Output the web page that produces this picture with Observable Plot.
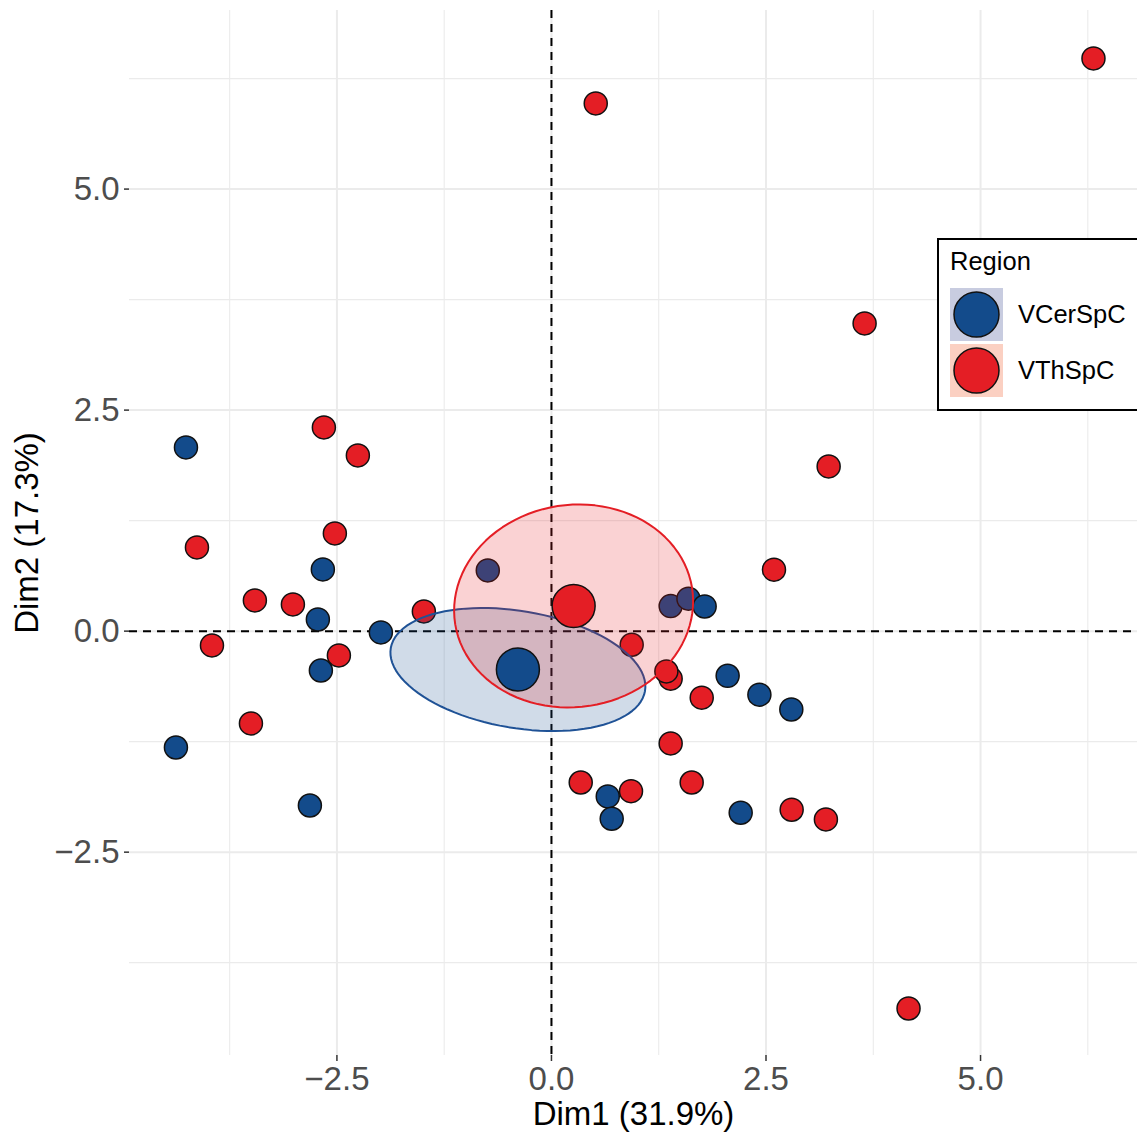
<!DOCTYPE html>
<html>
<head>
<meta charset="utf-8">
<script src="https://cdn.jsdelivr.net/npm/d3@7"></script>
<script src="https://cdn.jsdelivr.net/npm/@observablehq/plot@0.6"></script>
<style>
html, body { margin: 0; padding: 0; background: #fff; overflow: hidden; }
#wrap { position: relative; width: 1137px; height: 1135px; font-family: "Liberation Sans", Arial, sans-serif; }
#legend { position: absolute; left: 937px; top: 238px; }
</style>
</head>
<body>
<div id="wrap"></div>
<script>
// ---- data ----
const groups = ["VCerSpC", "VThSpC"];
const groupColors = ["#134B8B", "#E41E25"];
const ellipseStrokes = ["#1F5296", "#E41E25"];
const keyFills = ["#C8CCE0", "#FBD0C2"];

const cerX = [-4.259, -2.664, -2.722, -1.988, -2.687, -4.376, -2.815, -0.742, 1.389, 1.596, 1.785, 2.053, 2.423, 2.795, 0.656, 0.702, 2.205];
const cerY = [2.078, 0.698, 0.132, -0.015, -0.445, -1.316, -1.972, 0.687, 0.283, 0.367, 0.279, -0.505, -0.719, -0.886, -1.870, -2.122, -2.054];

const thX = [6.316, 0.516, 3.649, 3.230, -2.652, -2.256, -2.524, -4.131, -3.456, -3.013, -1.487, -3.956, -2.477, -3.502, 2.593, 0.935, 1.389, 1.339, 1.751, 1.389, 0.341, 0.927, 1.634, 2.799, 3.198, 4.161];
const thY = [6.478, 5.969, 3.481, 1.863, 2.304, 1.988, 1.105, 0.947, 0.347, 0.302, 0.223, -0.162, -0.275, -1.044, 0.695, -0.154, -0.538, -0.456, -0.753, -1.270, -1.712, -1.810, -1.712, -2.020, -2.130, -4.268];

const majorTicks = [-2.5, 0, 2.5, 5];
const minorTicks = [-3.75, -1.25, 1.25, 3.75, 6.25];
const xDomain = [-4.917, 6.829];
const yDomain = [-4.80, 7.02];
const xTitle = "Dim1 (31.9%)";
const yTitle = "Dim2 (17.3%)";
const legendTitle = "Region";

// ---- derived ----
const seriesX = [cerX, thX];
const seriesY = [cerY, thY];
const pts = groups.map((g, k) => seriesX[k].map((x, i) => ({group: g, x, y: seriesY[k][i]})));

function confEllipse(xs, ys, npts = 100, level = 0.95) {
  const n = xs.length;
  const mx = d3.mean(xs), my = d3.mean(ys);
  let sxx = 0, syy = 0, sxy = 0;
  for (let i = 0; i < n; i++) {
    sxx += (xs[i] - mx) ** 2;
    syy += (ys[i] - my) ** 2;
    sxy += (xs[i] - mx) * (ys[i] - my);
  }
  sxx = sxx / (n - 1) / n; syy = syy / (n - 1) / n; sxy = sxy / (n - 1) / n;
  const t = Math.sqrt(-2 * Math.log(1 - level));
  const sx = Math.sqrt(sxx), sy = Math.sqrt(syy);
  const d = Math.acos(sxy / (sx * sy));
  return d3.range(npts).map(i => {
    const a = 2 * Math.PI * i / npts;
    return {x: mx + t * sx * Math.cos(a + d / 2), y: my + t * sy * Math.cos(a - d / 2)};
  });
}
const ellipses = groups.map((g, k) => confEllipse(seriesX[k], seriesY[k]));
const means = groups.map((g, k) => ({group: g, x: d3.mean(seriesX[k]), y: d3.mean(seriesY[k])}));

const font = "Liberation Sans, Arial, sans-serif";
const gridStyle = {stroke: "#EBEBEB", strokeOpacity: 1};

const chart = Plot.plot({
  width: 1137,
  height: 1135,
  marginLeft: 129,
  marginRight: 0,
  marginTop: 10,
  marginBottom: 80,
  x: {domain: xDomain},
  y: {domain: yDomain},
  style: {fontFamily: font, background: "white", overflow: "visible"},
  marks: [
    Plot.gridX(minorTicks, {...gridStyle, strokeWidth: 1.1}),
    Plot.gridY(minorTicks, {...gridStyle, strokeWidth: 1.1}),
    Plot.gridX(majorTicks, {...gridStyle, strokeWidth: 2}),
    Plot.gridY(majorTicks, {...gridStyle, strokeWidth: 2}),
    Plot.axisX(majorTicks, {tickSize: 6, tickPadding: 5, fontSize: 33, stroke: "#333333", strokeWidth: 1.5, fill: "#4D4D4D", tickFormat: d3.format(".1f"), label: null}),
    Plot.axisY(majorTicks, {tickSize: 5, tickPadding: 5, fontSize: 33, stroke: "#333333", strokeWidth: 1.5, fill: "#4D4D4D", tickFormat: d3.format(".1f"), label: null}),
    Plot.ruleX([0], {stroke: "black", strokeWidth: 2, strokeDasharray: "8,6"}),
    Plot.ruleY([0], {stroke: "black", strokeWidth: 2, strokeDasharray: "8,6"}),
    ...groups.map((g, k) => Plot.dot(pts[k], {x: "x", y: "y", r: 11.5, fill: groupColors[k], stroke: "#111", strokeWidth: 1.5})),
    ...groups.map((g, k) => Plot.line(ellipses[k], {x: "x", y: "y", curve: "linear-closed", fill: groupColors[k], fillOpacity: 0.2, stroke: ellipseStrokes[k], strokeWidth: 2})),
    ...groups.map((g, k) => Plot.dot([means[k]], {x: "x", y: "y", r: 21.5, fill: groupColors[k], stroke: "#111", strokeWidth: 1.5})),
    Plot.text([xTitle], {text: d => d, frameAnchor: "bottom", lineAnchor: "middle", textAnchor: "middle", dy: 59, fontSize: 33, fill: "black"}),
    Plot.text([yTitle], {text: d => d, frameAnchor: "left", lineAnchor: "middle", textAnchor: "middle", rotate: -90, dx: -102, fontSize: 33, fill: "black"})
  ]
});
document.getElementById("wrap").appendChild(chart);

// ---- legend (overlay) ----
const leg = d3.select("#wrap").append("div").attr("id", "legend")
  .append("svg").attr("width", 200).attr("height", 174)
  .style("font-family", font).style("overflow", "visible");
leg.append("rect").attr("x", 1).attr("y", 1).attr("width", 260).attr("height", 171)
  .attr("fill", "white").attr("stroke", "black").attr("stroke-width", 2);
leg.append("text").attr("x", 13).attr("y", 32).attr("font-size", 25.5).attr("fill", "black").text(legendTitle);
groups.forEach((g, k) => {
  const y0 = 50 + k * 56;
  leg.append("rect").attr("x", 13).attr("y", y0).attr("width", 53).attr("height", 53).attr("fill", keyFills[k]);
  leg.append("circle").attr("cx", 39.5).attr("cy", y0 + 26.5).attr("r", 22.5)
    .attr("fill", groupColors[k]).attr("stroke", "#111").attr("stroke-width", 1.5);
  leg.append("text").attr("x", 81).attr("y", y0 + 35).attr("font-size", 25.5).attr("fill", "black").text(g);
});
</script>
</body>
</html>
